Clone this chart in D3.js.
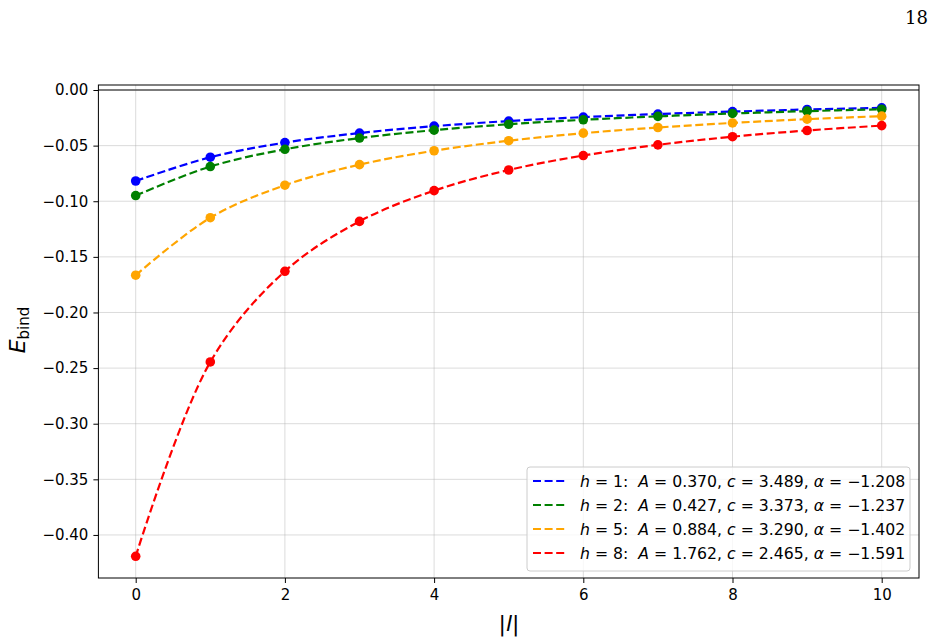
<!DOCTYPE html>
<html>
<head>
<meta charset="utf-8">
<script src="https://cdn.jsdelivr.net/npm/d3@7"></script>
<style>
  html, body { margin: 0; padding: 0; background: #fff; }
  svg { display: block; }
</style>
</head>
<body>
<svg id="chart" width="936" height="643"></svg>
<script>
// ---- data ----
const lValues = [0, 1, 2, 3, 4, 5, 6, 7, 8, 9, 10];
const seriesH = [1, 2, 5, 8];
const seriesColors = ["#0000ff", "#008000", "#ffa500", "#ff0000"];
const eH1 = [-0.0818, -0.0604, -0.0473, -0.0387, -0.0325, -0.0279, -0.0244, -0.0216, -0.0194, -0.0175, -0.0160];
const eH2 = [-0.0949, -0.0688, -0.0533, -0.0432, -0.0361, -0.0308, -0.0268, -0.0237, -0.0211, -0.0190, -0.0173];
const eH5 = [-0.1665, -0.1148, -0.0856, -0.0671, -0.0546, -0.0456, -0.0388, -0.0337, -0.0296, -0.0262, -0.0235];
const eH8 = [-0.4192, -0.2445, -0.1630, -0.1181, -0.0905, -0.0719, -0.0589, -0.0493, -0.0420, -0.0364, -0.0320];
const fitA = ["0.370", "0.427", "0.884", "1.762"];
const fitC = ["3.489", "3.373", "3.290", "2.465"];
const fitAlpha = ["−1.208", "−1.237", "−1.402", "−1.591"];
const xTicks = [0, 2, 4, 6, 8, 10];
const yTicks = [0, -0.05, -0.10, -0.15, -0.20, -0.25, -0.30, -0.35, -0.40];
const allSeries = [eH1, eH2, eH5, eH8];

// ---- layout ----
const svg = d3.select("#chart");
const L = 98.4, R = 919, T = 85, B = 578;
const x = d3.scaleLinear().domain([-0.5, 10.5]).range([L, R]);
const y = d3.scaleLinear().domain([-0.4387, 0.0045]).range([B, T]);
const font = "DejaVu Sans, sans-serif";

// grid
const grid = svg.append("g");
grid.selectAll("line.gx").data(xTicks).join("line")
  .attr("x1", d => x(d)).attr("x2", d => x(d)).attr("y1", T).attr("y2", B)
  .attr("stroke", "#b0b0b0").attr("stroke-opacity", 0.45).attr("stroke-width", 1);
grid.selectAll("line.gy").data(yTicks).join("line")
  .attr("y1", d => y(d)).attr("y2", d => y(d)).attr("x1", L).attr("x2", R)
  .attr("stroke", "#b0b0b0").attr("stroke-opacity", 0.45).attr("stroke-width", 1);

// zero line
svg.append("line").attr("x1", L).attr("x2", R).attr("y1", y(0)).attr("y2", y(0))
  .attr("stroke", "#555").attr("stroke-width", 1.3);

// axes
const xAxis = d3.axisBottom(x).tickValues(xTicks).tickSize(5).tickPadding(6).tickFormat(d3.format("d"));
const yAxis = d3.axisLeft(y).tickValues(yTicks).tickSize(5).tickPadding(5).tickFormat(d3.format(".2f"));
const gx = svg.append("g").attr("transform", `translate(0,${B})`).call(xAxis);
const gy = svg.append("g").attr("transform", `translate(${L},0)`).call(yAxis);
[gx, gy].forEach(g => {
  g.select(".domain").remove();
  g.selectAll(".tick line").attr("stroke", "#000").attr("stroke-width", 1);
  g.selectAll(".tick text").attr("font-family", font).attr("font-size", 15).attr("fill", "#000");
});

// curves
const line = d3.line().x((d, i) => x(lValues[i])).y(d => y(d)).curve(d3.curveCatmullRom.alpha(0.5));
const plot = svg.append("g");
allSeries.forEach((vals, k) => {
  plot.append("path").datum(vals).attr("d", line)
    .attr("fill", "none").attr("stroke", seriesColors[k]).attr("stroke-width", 2.2)
    .attr("stroke-dasharray", "8,3.6");
});
allSeries.forEach((vals, k) => {
  plot.selectAll(null).data(vals).join("circle")
    .attr("cx", (d, i) => x(lValues[i])).attr("cy", d => y(d)).attr("r", 4.8)
    .attr("fill", seriesColors[k]);
});

// frame
svg.append("rect").attr("x", L).attr("y", T).attr("width", R - L).attr("height", B - T)
  .attr("fill", "none").attr("stroke", "#000").attr("stroke-width", 1);

// legend
const lg = svg.append("g");
lg.append("rect").attr("x", 527).attr("y", 467).attr("width", 383).attr("height", 104)
  .attr("rx", 3).attr("fill", "#fff").attr("fill-opacity", 0.8)
  .attr("stroke", "#ccc").attr("stroke-width", 1);
seriesH.forEach((h, k) => {
  const yy = 481 + k * 24;
  lg.append("line").attr("x1", 533).attr("x2", 566).attr("y1", yy).attr("y2", yy)
    .attr("stroke", seriesColors[k]).attr("stroke-width", 2.2).attr("stroke-dasharray", "8,3.6");
  const t = lg.append("text").attr("x", 580).attr("y", yy + 5.7)
    .attr("font-family", font).attr("font-size", 15.7).attr("fill", "#000")
    .style("white-space", "pre");
  const parts = [
    ["h", true], [" = " + h + ":  ", false], ["A", true], [" = " + fitA[k] + ", ", false],
    ["c", true], [" = " + fitC[k] + ", ", false], ["α", true], [" = " + fitAlpha[k], false]
  ];
  parts.forEach(([s, it]) => {
    t.append("tspan").attr("font-style", it ? "italic" : "normal").text(s);
  });
});

// axis labels
const yl = svg.append("text").attr("transform", "translate(25,330) rotate(-90)")
  .attr("text-anchor", "middle").attr("font-family", font).attr("font-size", 22).attr("fill", "#000");
yl.append("tspan").attr("font-style", "italic").text("E");
yl.append("tspan").attr("font-size", 15).attr("dy", 4).text("bind");

const xl = svg.append("text").attr("x", 509).attr("y", 631).attr("text-anchor", "middle")
  .attr("font-family", font).attr("font-size", 22).attr("fill", "#000");
xl.append("tspan").text("|");
xl.append("tspan").attr("font-style", "italic").text("l");
xl.append("tspan").text("|");

// page number
svg.append("text").attr("x", 928).attr("y", 24).attr("text-anchor", "end")
  .attr("font-family", "DejaVu Serif, Liberation Serif, serif").attr("font-size", 18)
  .attr("fill", "#000").text("18");
</script>
</body>
</html>
